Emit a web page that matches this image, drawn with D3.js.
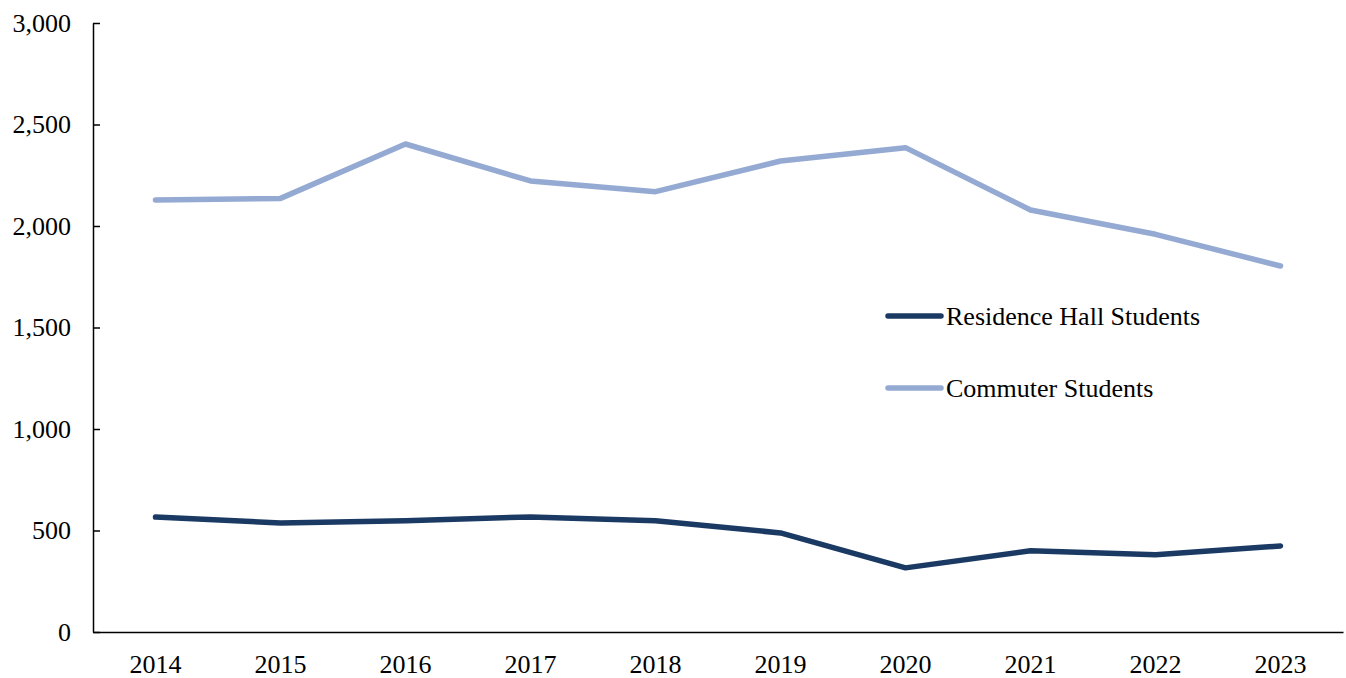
<!DOCTYPE html>
<html>
<head>
<meta charset="utf-8">
<script src="https://cdn.jsdelivr.net/npm/d3@7"></script>
<style>
  body { margin: 0; background: #fff; }
  svg text { font-family: "Liberation Serif", "Times New Roman", serif; fill: #000; }
</style>
</head>
<body>
<svg id="chart" width="1346" height="678"></svg>
<script>
var years = ["2014", "2015", "2016", "2017", "2018", "2019", "2020", "2021", "2022", "2023"];
var residence = [566, 537, 548, 567, 548, 488, 316, 400, 380, 424];
var commuter = [2128, 2136, 2404, 2222, 2169, 2320, 2386, 2079, 1959, 1803];
var yTicks = [0, 500, 1000, 1500, 2000, 2500, 3000];
var seriesNames = ["Residence Hall Students", "Commuter Students"];
var seriesColors = ["#1b3a63", "#94aad3"];

var svg = d3.select("#chart");
var plot = {left: 93, right: 1343, top: 23, bottom: 632};

var x = d3.scaleBand()
  .domain(years)
  .range([plot.left, plot.right])
  .padding(0);

var y = d3.scaleLinear()
  .domain([0, 3000])
  .range([plot.bottom, plot.top]);

//y axis, ticks point inward like the original
var yAxis = svg.append("g")
  .attr("transform", "translate(" + plot.left + ",0)")
  .call(d3.axisRight(y).tickValues(yTicks).tickSize(7).tickSizeOuter(0).tickFormat(d3.format(",")));
yAxis.select(".domain").attr("stroke", "#000").attr("stroke-width", 1.5);
yAxis.selectAll(".tick line").attr("stroke", "#000").attr("stroke-width", 1.5);
yAxis.selectAll(".tick text")
  .attr("x", -22)
  .attr("text-anchor", "end")
  .attr("font-size", 26);

//x axis, no tick marks
var xAxis = svg.append("g")
  .attr("transform", "translate(0," + plot.bottom + ")")
  .call(d3.axisBottom(x).tickSize(0).tickSizeOuter(0));
xAxis.select(".domain").attr("stroke", "#000").attr("stroke-width", 1.5);
xAxis.selectAll(".tick text")
  .attr("dy", 0)
  .attr("y", 41)
  .attr("font-size", 26);

var line = d3.line()
  .x(function(d, i) { return x(years[i]) + x.bandwidth() / 2; })
  .y(function(d) { return y(d); });

[residence, commuter].forEach(function(data, i) {
  svg.append("path")
    .datum(data)
    .attr("d", line)
    .attr("fill", "none")
    .attr("stroke", seriesColors[i])
    .attr("stroke-width", 5.5)
    .attr("stroke-linecap", "round")
    .attr("stroke-linejoin", "round");
});

//legend
var legend = svg.append("g").attr("transform", "translate(888,316)");
seriesNames.forEach(function(name, i) {
  var g = legend.append("g").attr("transform", "translate(0," + (i * 72) + ")");
  g.append("line")
    .attr("x1", 0).attr("x2", 53)
    .attr("stroke", seriesColors[i])
    .attr("stroke-width", 5.5)
    .attr("stroke-linecap", "round");
  g.append("text")
    .attr("x", 58)
    .attr("dy", "0.33em")
    .attr("font-size", 26)
    .text(name);
});
</script>
</body>
</html>
